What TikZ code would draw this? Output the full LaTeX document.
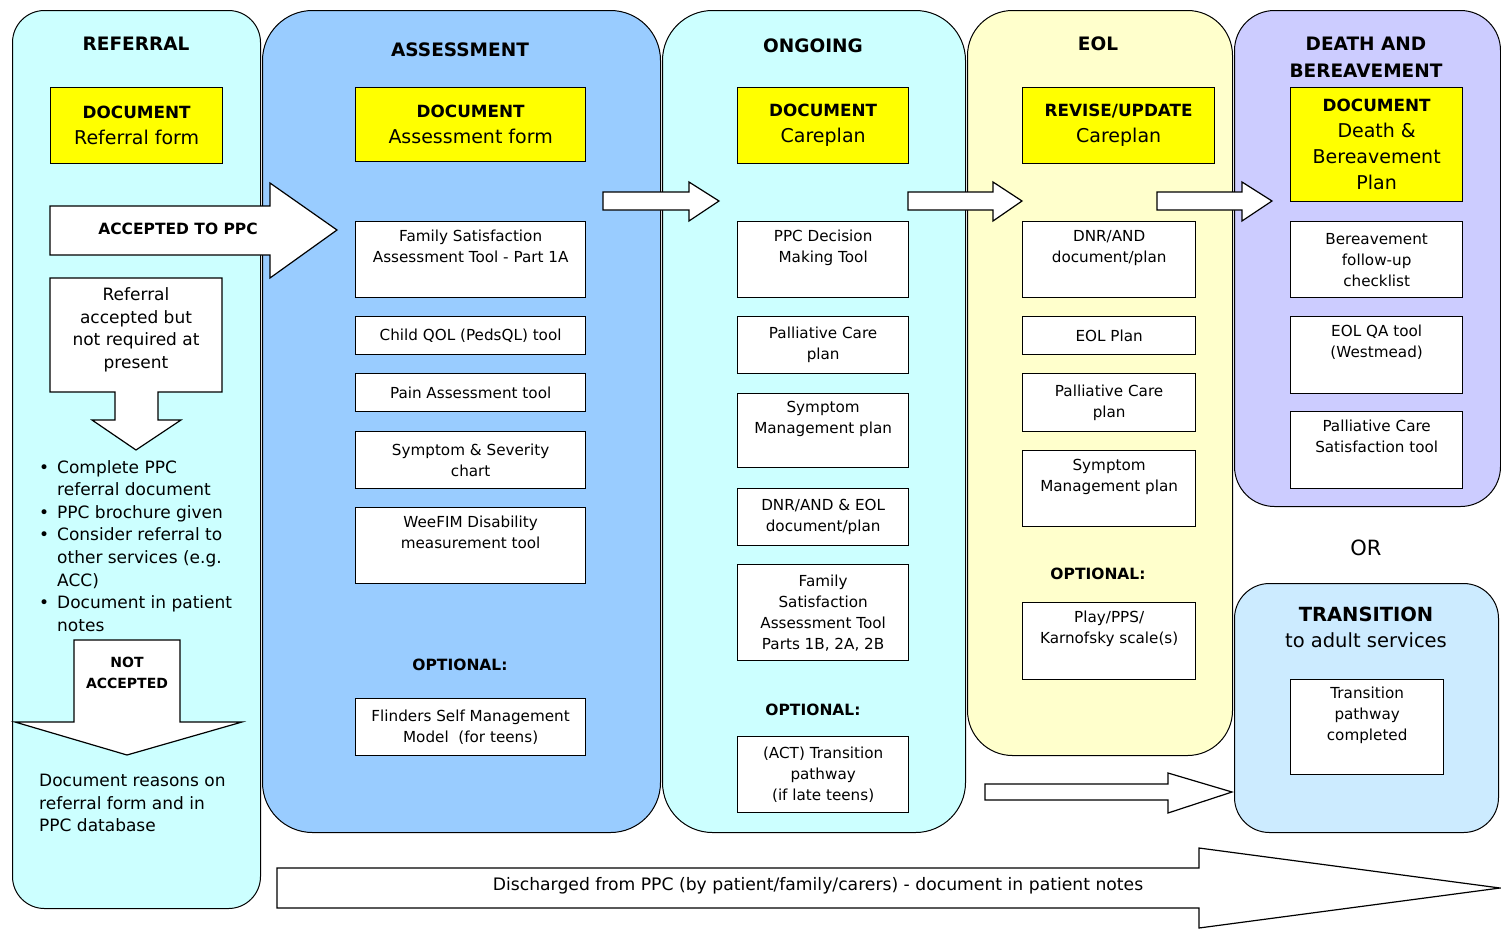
\documentclass[tikz,border=0pt]{standalone}
\usepackage{fontspec}
\setmainfont{DejaVu Sans}
\usetikzlibrary{positioning}

\definecolor{refcyan}{HTML}{CCFFFF}
\definecolor{assblue}{HTML}{99CCFF}
\definecolor{eolyellow}{HTML}{FFFFCC}
\definecolor{deathlilac}{HTML}{CCCCFF}
\definecolor{transblue}{HTML}{CCEBFF}
\definecolor{docyellow}{HTML}{FFFF00}

\newcommand\headfont{\fontsize{18.5}{27}\selectfont\bfseries}
\newcommand\docfont{\fontsize{19}{26}\selectfont}
\newcommand\docword[1]{{\fontsize{16.8}{26}\selectfont\bfseries #1}}
\newcommand\toolfont{\fontsize{15.2}{21}\selectfont}
\newcommand\notefont{\fontsize{17}{22.6}\selectfont}
\newcommand\optfont{\fontsize{15.5}{21}\selectfont\bfseries}

\tikzset{
  phase/.style={draw, line width=1pt, anchor=north west, inner sep=0pt, rounded corners=#1},
  phase/.default=45pt,
  heading/.style={font=\headfont, align=center},
  docbox/.style={draw, fill=docyellow, line width=1.3pt, anchor=north west, align=center, font=\docfont, inner sep=2pt},
  toolbox/.style={draw, fill=white, line width=1.3pt, anchor=north west, align=center, font=\toolfont, inner sep=2pt},
  optional/.style={font=\optfont},
  fatarrow/.style={draw, fill=white, line width=1.2pt, line join=miter}
}

\begin{document}
\begin{tikzpicture}[x=1pt,y=-1pt]
   \useasboundingbox (0,0) rectangle (1501,932);

   % phases
   \node[phase=32pt, fill=refcyan, minimum width=248pt, minimum height=898pt] (referral) at (12,10) {};
   \node[phase=50pt, fill=assblue, minimum width=398pt, minimum height=822pt] (assessment) at (262,10) {};
   \node[phase=50pt, fill=refcyan, minimum width=303pt, minimum height=822pt] (ongoing) at (662,10) {};
   \node[phase, fill=eolyellow, minimum width=265pt, minimum height=745pt] (eol) at (967,10) {};
   \node[phase=40pt, fill=deathlilac, minimum width=266pt, minimum height=496pt] (death) at (1234,10) {};
   \node[phase=35pt, fill=transblue, minimum width=264pt, minimum height=249pt] (transition) at (1234,583) {};

   % referral
   \node[heading] (refhead) at (136,44) {REFERRAL};
   \node[docbox, minimum width=172pt, minimum height=76pt] (refdoc) at (50,87) {\docword{DOCUMENT}\\Referral form};
   \draw[fatarrow] (50,206) -- (270,206) -- (270,183) -- (337,230) -- (270,278) -- (270,255) -- (50,255) -- cycle;
   \node[font=\fontsize{15.5}{21}\selectfont\bfseries] (accepted) at (178,229) {ACCEPTED TO PPC};
   \draw[fatarrow] (50,278) -- (222,278) -- (222,392) -- (158,392) -- (158,420) -- (181,420) -- (136,450)
      -- (92,420) -- (115,420) -- (115,392) -- (50,392) -- cycle;
   \node[font=\notefont, align=center] (notnow) at (136,330) {Referral\\accepted but\\not required at\\present};
   \node[font=\notefont, align=left, anchor=north west, inner sep=0pt] (bullets) at (39,460)
      {\makebox[18pt][l]{\textbullet}Complete PPC\\
       \hspace*{18pt}referral document\\
       \makebox[18pt][l]{\textbullet}PPC brochure given\\
       \makebox[18pt][l]{\textbullet}Consider referral to\\
       \hspace*{18pt}other services (e.g.\\
       \hspace*{18pt}ACC)\\
       \makebox[18pt][l]{\textbullet}Document in patient\\
       \hspace*{18pt}notes};
   \draw[fatarrow] (74,640) -- (180,640) -- (180,722) -- (242,722) -- (127,755) -- (15,722) -- (74,722) -- cycle;
   \node[font=\fontsize{14}{21}\selectfont\bfseries, align=center] (rejected) at (127,673) {NOT\\ACCEPTED};
   \node[font=\notefont, align=left, anchor=north west, inner sep=0pt] (reasons) at (39,774)
      {Document reasons on\\referral form and in\\PPC database};

   % assessment
   \node[heading] (asshead) at (460,50) {ASSESSMENT};
   \node[docbox, minimum width=230pt, minimum height=74pt] (assdoc) at (355,87) {\docword{DOCUMENT}\\Assessment form};
   \node[toolbox, minimum width=230pt, minimum height=76pt] (fsat) at (355,221) {Family Satisfaction\\Assessment Tool - Part 1A\\\strut};
   \node[toolbox, minimum width=230pt, minimum height=38pt] (qol) at (355,316) {Child QOL (PedsQL) tool};
   \node[toolbox, minimum width=230pt, minimum height=38pt] (pain) at (355,373) {Pain Assessment tool};
   \node[toolbox, minimum width=230pt, minimum height=57pt] (severity) at (355,431) {Symptom \& Severity\\chart};
   \node[toolbox, minimum width=230pt, minimum height=76pt] (weefim) at (355,507) {WeeFIM Disability\\measurement tool\\\strut};
   \node[optional] (assopt) at (460,665) {OPTIONAL:};
   \node[toolbox, minimum width=230pt, minimum height=57pt] (flinders) at (355,698) {Flinders Self Management\\Model\ \ (for teens)};

   % ongoing
   \node[heading] (onghead) at (813,46) {ONGOING};
   \node[docbox, minimum width=171pt, minimum height=76pt] (ongdoc) at (737,87) {\docword{DOCUMENT}\\Careplan};
   \node[toolbox, minimum width=171pt, minimum height=76pt] (decision) at (737,221) {PPC Decision\\Making Tool\\\strut};
   \node[toolbox, minimum width=171pt, minimum height=57pt] (pcplan) at (737,316) {Palliative Care\\plan};
   \node[toolbox, minimum width=171pt, minimum height=74pt] (symplan) at (737,393) {Symptom\\Management plan\\\strut};
   \node[toolbox, minimum width=171pt, minimum height=57pt] (dnreol) at (737,488) {DNR/AND \& EOL\\document/plan};
   \node[toolbox, minimum width=171pt, minimum height=96pt] (fsatb) at (737,564) {Family\\Satisfaction\\Assessment Tool\\Parts 1B, 2A, 2B};
   \node[optional] (ongopt) at (813,710) {OPTIONAL:};
   \node[toolbox, minimum width=171pt, minimum height=76pt] (act) at (737,736) {(ACT) Transition\\pathway\\(if late teens)};

   % eol
   \node[heading] (eolhead) at (1098,44) {EOL};
   \node[docbox, minimum width=192pt, minimum height=76pt] (eoldoc) at (1022,87) {\docword{REVISE/UPDATE}\\Careplan};
   \node[toolbox, minimum width=173pt, minimum height=76pt] (dnr) at (1022,221) {DNR/AND\\document/plan\\\strut};
   \node[toolbox, minimum width=173pt, minimum height=38pt] (eolplan) at (1022,316) {EOL Plan};
   \node[toolbox, minimum width=173pt, minimum height=58pt] (pcplanb) at (1022,373) {Palliative Care\\plan};
   \node[toolbox, minimum width=173pt, minimum height=76pt] (symplanb) at (1022,450) {Symptom\\Management plan\\\strut};
   \node[optional] (eolopt) at (1098,574) {OPTIONAL:};
   \node[toolbox, minimum width=173pt, minimum height=77pt] (scales) at (1022,602) {Play/PPS/\\Karnofsky scale(s)\\\strut};

   % death and bereavement
   \node[heading] (deathhead) at (1366,57) {DEATH AND\\BEREAVEMENT};
   \node[docbox, minimum width=172pt, minimum height=114pt] (deathdoc) at (1290,87) {\docword{DOCUMENT}\\Death \&\\Bereavement\\Plan};
   \node[toolbox, minimum width=172pt, minimum height=76pt] (followup) at (1290,221) {Bereavement\\follow-up\\checklist};
   \node[toolbox, minimum width=172pt, minimum height=77pt] (eolqa) at (1290,316) {EOL QA tool\\(Westmead)\\\strut};
   \node[toolbox, minimum width=172pt, minimum height=77pt] (pcsat) at (1290,411) {Palliative Care\\Satisfaction tool\\\strut};

   \node[font=\fontsize{21}{26}\selectfont] (or) at (1366,548) {OR};

   % transition
   \node[align=center, font=\fontsize{19.5}{26}\selectfont] (transhead) at (1366,627) {\textbf{TRANSITION}\\to adult services};
   \node[toolbox, minimum width=153pt, minimum height=95pt] (pathway) at (1290,679) {Transition\\pathway\\completed\\\strut};

   % arrows between phases
   \draw[fatarrow] (603,192) -- (689,192) -- (689,182) -- (719,201) -- (689,221) -- (689,210) -- (603,210) -- cycle;
   \draw[fatarrow] (908,192) -- (993,192) -- (993,182) -- (1022,201) -- (993,221) -- (993,210) -- (908,210) -- cycle;
   \draw[fatarrow] (1157,192) -- (1242,192) -- (1242,182) -- (1272,201) -- (1242,221) -- (1242,210) -- (1157,210) -- cycle;
   \draw[fatarrow] (985,784) -- (1168,784) -- (1168,773) -- (1232,792) -- (1168,813) -- (1168,800) -- (985,800) -- cycle;
   \draw[fatarrow] (277,868) -- (1199,868) -- (1199,848) -- (1500,888) -- (1199,928) -- (1199,908) -- (277,908) -- cycle;
   \node[font=\fontsize{17.2}{21}\selectfont] (discharged) at (818,886) {Discharged from PPC (by patient/family/carers) - document in patient notes};
\end{tikzpicture}
\end{document}
